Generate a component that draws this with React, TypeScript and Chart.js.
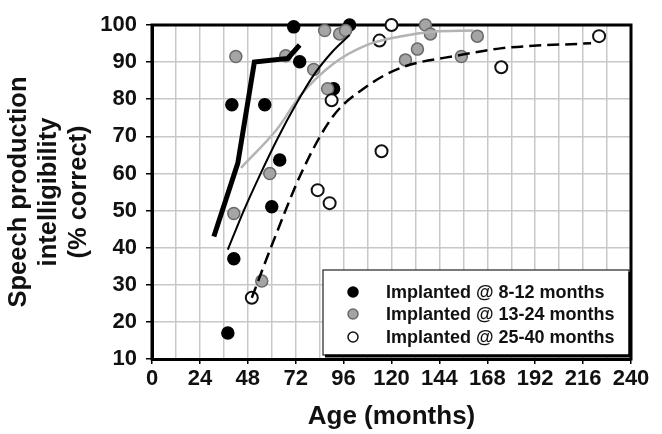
import { useEffect, useRef } from 'react';
import { Chart, registerables } from 'chart.js';

Chart.register(...registerables);

// ---- data (age in months, % correct) ----
const xTickLabels = [0, 24, 48, 72, 96, 120, 144, 168, 192, 216, 240];
const yTickLabels = [10, 20, 30, 40, 50, 60, 70, 80, 90, 100];

const group8to12 = [
  { x: 38, y: 17 }, { x: 41, y: 37 }, { x: 40, y: 78.5 }, { x: 56.5, y: 78.5 },
  { x: 60, y: 51 }, { x: 64, y: 63.6 }, { x: 71, y: 99.5 }, { x: 74, y: 90.1 },
  { x: 91, y: 82.8 }, { x: 99, y: 100 },
];
const group13to24 = [
  { x: 42, y: 91.5 }, { x: 67, y: 91.7 }, { x: 41, y: 49.2 }, { x: 55, y: 31 },
  { x: 59, y: 60 }, { x: 81, y: 88 }, { x: 88, y: 82.8 }, { x: 86.5, y: 98.5 },
  { x: 94, y: 97.6 }, { x: 97, y: 98.5 }, { x: 127, y: 90.6 }, { x: 133, y: 93.5 },
  { x: 137, y: 100 }, { x: 139.5, y: 97.6 }, { x: 155, y: 91.5 }, { x: 163, y: 97 },
];
const group25to40 = [
  { x: 50, y: 26.5 }, { x: 83, y: 55.5 }, { x: 89, y: 52 }, { x: 90, y: 79.7 },
  { x: 114, y: 95.8 }, { x: 115, y: 66 }, { x: 120, y: 100 }, { x: 175, y: 88.6 },
  { x: 224, y: 97 },
];

// fitted / trend lines
const thickTrend = [
  { x: 31, y: 43 }, { x: 43, y: 62.8 }, { x: 51.3, y: 90 }, { x: 68, y: 91 }, { x: 74, y: 94.6 },
];
const fit8to12 = [
  { x: 38, y: 39.5 }, { x: 46, y: 50 }, { x: 54, y: 59.5 }, { x: 63, y: 69.5 },
  { x: 72, y: 78.5 }, { x: 81, y: 86.5 }, { x: 90.7, y: 93 }, { x: 99, y: 97.3 },
];
const fit13to24 = [
  { x: 44.6, y: 61.5 }, { x: 63, y: 72.2 }, { x: 74, y: 80.8 }, { x: 90.7, y: 89.5 },
  { x: 107.5, y: 94.6 }, { x: 124.3, y: 96.9 }, { x: 141, y: 98.2 }, { x: 161, y: 98.5 },
];
const fit25to40 = [
  { x: 50, y: 26.5 }, { x: 60.5, y: 41.3 }, { x: 75.6, y: 61 }, { x: 90.7, y: 75.4 },
  { x: 107.5, y: 83.4 }, { x: 124.3, y: 88.4 }, { x: 154.5, y: 91.9 }, { x: 174.6, y: 93.7 },
  { x: 220, y: 95.1 },
];

const legendLabels = [
  'Implanted @ 8-12 months',
  'Implanted @ 13-24 months',
  'Implanted @ 25-40 months',
];

const FONT = "'Liberation Sans', Arial, sans-serif";

const framePlugin = {
  id: 'frame',
  beforeDatasetsDraw(chart: any) {
    const { ctx, chartArea } = chart;
    const { left, top, right, bottom } = chartArea;
    ctx.save();
    ctx.strokeStyle = '#000';
    ctx.lineWidth = 3;
    ctx.lineCap = 'square';
    ctx.beginPath();
    ctx.moveTo(left, bottom);
    ctx.lineTo(left, top);
    ctx.lineTo(right, top);
    ctx.lineTo(right, bottom);
    ctx.stroke();
    ctx.restore();
  },
};

const legendPlugin = {
  id: 'boxLegend',
  afterDatasetsDraw(chart: any) {
    const { ctx, chartArea } = chart;
    const { right, bottom } = chartArea;
    const x0 = right - 308;
    const y0 = bottom - 89;
    const w = 306;
    const h = 85;
    ctx.save();
    ctx.fillStyle = '#fff';
    ctx.fillRect(x0, y0, w, h);
    ctx.strokeStyle = '#222';
    ctx.lineWidth = 1.2;
    ctx.strokeRect(x0, y0, w, h);
    ctx.strokeStyle = '#000';
    ctx.lineWidth = 3;
    ctx.beginPath();
    ctx.moveTo(x0 + w + 1, y0 + 2);
    ctx.lineTo(x0 + w + 1, y0 + h + 1);
    ctx.lineTo(x0 + 2, y0 + h + 1);
    ctx.stroke();

    const rows = [22, 44, 67];
    for (let i = 0; i < 3; i++) {
      const ds = chart.data.datasets[i];
      const cy = y0 + rows[i];
      ctx.beginPath();
      ctx.arc(x0 + 30, cy, 5, 0, Math.PI * 2);
      ctx.fillStyle = ds.backgroundColor;
      ctx.fill();
      ctx.lineWidth = 1.5;
      ctx.strokeStyle = ds.borderColor;
      ctx.stroke();
      ctx.fillStyle = '#111';
      ctx.font = `bold 18px ${FONT}`;
      ctx.textBaseline = 'middle';
      ctx.textAlign = 'left';
      ctx.fillText(legendLabels[i], x0 + 63, cy + 1);
    }
    ctx.restore();
  },
};

export default function App() {
  const canvasRef = useRef<HTMLCanvasElement | null>(null);

  useEffect(() => {
    if (!canvasRef.current) return;
    const pointBase = { showLine: false, pointRadius: 6, pointHoverRadius: 6, clip: false };
    const lineBase = { showLine: true, pointRadius: 0, pointHoverRadius: 0, fill: false, order: 0, clip: false };
    const chart = new Chart(canvasRef.current, {
      type: 'scatter',
      data: {
        datasets: [
          {
            ...pointBase, label: legendLabels[0], data: group8to12, order: 3,
            backgroundColor: '#000', borderColor: '#000', pointBorderWidth: 1.5,
          },
          {
            ...pointBase, label: legendLabels[1], data: group13to24, order: 2,
            backgroundColor: '#a5a5a5', borderColor: '#6a6a6a', pointBorderWidth: 1.5,
          },
          {
            ...pointBase, label: legendLabels[2], data: group25to40, order: 1,
            backgroundColor: '#fff', borderColor: '#111', pointBorderWidth: 2,
          },
          {
            ...lineBase, label: 'trend', data: thickTrend, borderColor: '#000', borderWidth: 5,
            tension: 0, borderJoinStyle: 'miter',
          },
          {
            ...lineBase, label: 'fit 8-12', data: fit8to12, borderColor: '#000', borderWidth: 2,
            tension: 0.4, cubicInterpolationMode: 'monotone',
          },
          {
            ...lineBase, label: 'fit 13-24', data: fit13to24, borderColor: '#b3b3b3', borderWidth: 2.5,
            tension: 0.4, cubicInterpolationMode: 'monotone',
          },
          {
            ...lineBase, label: 'fit 25-40', data: fit25to40, borderColor: '#000', borderWidth: 2.5,
            borderDash: [12, 6], tension: 0.4, cubicInterpolationMode: 'monotone',
          },
        ] as any,
      },
      options: {
        animation: false,
        responsive: true,
        maintainAspectRatio: false,
        layout: { padding: { top: 25, right: 31, left: 0, bottom: 0 } },
        plugins: {
          legend: { display: false },
          tooltip: { enabled: false },
        },
        scales: {
          x: {
            type: 'linear',
            min: 0,
            max: 240,
            ticks: {
              stepSize: 12,
              autoSkip: false,
              maxRotation: 0,
              padding: 2,
              color: '#111',
              font: { family: FONT, size: 22, weight: 'bold' },
              callback: (v: any) => (xTickLabels.includes(Number(v)) ? String(v) : ''),
            },
            grid: {
              color: '#c8c8c8',
              lineWidth: 1.5,
              tickLength: 5,
              tickColor: (c: any) => (c.tick && xTickLabels.includes(c.tick.value) ? '#000' : 'rgba(0,0,0,0)'),
              tickWidth: 1.5,
            },
            border: { display: true, color: '#000', width: 3 },
            title: {
              display: true,
              text: 'Age (months)',
              color: '#111',
              font: { family: FONT, size: 26, weight: 'bold', lineHeight: 1.2 },
              padding: { top: 0, bottom: 2 },
            },
            afterFit: (s: any) => { s.height = 75; },
          },
          y: {
            type: 'linear',
            min: 10,
            max: 100,
            ticks: {
              stepSize: 10,
              padding: 9,
              color: '#111',
              font: { family: FONT, size: 22, weight: 'bold' },
              callback: (v: any) => (yTickLabels.includes(Number(v)) ? String(v) : ''),
            },
            grid: {
              color: '#c8c8c8',
              lineWidth: 1.5,
              tickLength: 6,
              tickColor: '#000',
              tickWidth: 1.5,
            },
            border: { display: true, color: '#000', width: 3 },
            title: {
              display: true,
              text: ['Speech production', 'intelligibility', '(% correct)'],
              color: '#111',
              font: { family: FONT, size: 25.5, weight: 'bold', lineHeight: 1.18 },
              padding: { top: 4, bottom: 0 },
            },
            afterFit: (s: any) => { s.width = 152; },
          },
        },
      } as any,
      plugins: [framePlugin, legendPlugin],
    });
    return () => chart.destroy();
  }, []);

  return (
    <div style={{ position: 'fixed', left: 0, top: 0, width: 662, height: 434, background: '#fff' }}>
      <canvas ref={canvasRef} />
    </div>
  );
}
